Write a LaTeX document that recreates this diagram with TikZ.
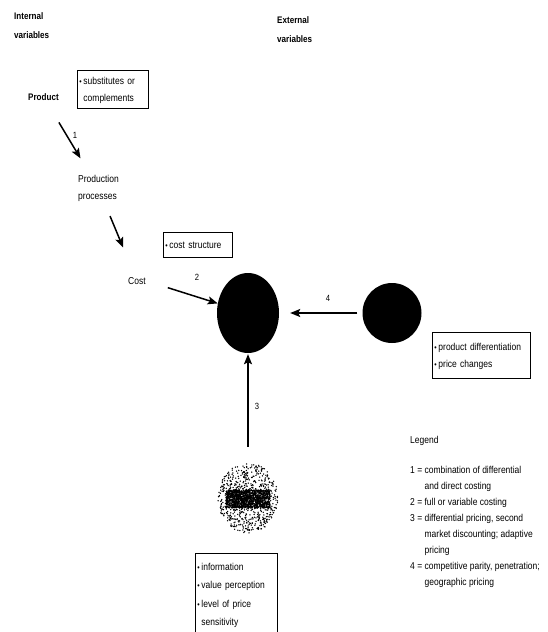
\documentclass[tikz,border=0pt]{standalone}
\usepackage{fontspec}
\setmainfont{Liberation Sans}[FakeStretch=0.85]
\usetikzlibrary{shapes.geometric,arrows.meta}
\begin{document}
\begin{tikzpicture}[x=1pt,y=-1pt,
  lbl/.style={font=\fontsize{10}{19}\selectfont, align=left, inner sep=0pt, anchor=north west},
  bx/.style={draw, line width=0.8pt, inner xsep=2pt, anchor=north west, align=left},
  arr/.style={-{Stealth[length=10pt,width=8pt,inset=2pt]}, line width=1.5pt},
  num/.style={font=\fontsize{9}{9}\selectfont, inner sep=0pt},
  blob/.style={ellipse, fill=black, inner sep=0pt}]
\useasboundingbox[fill=white] (0,0) rectangle (548,632);
\newcommand{\bul}{{\fontsize{8}{8}\selectfont\textbullet}}

% internal / external labels
\node[lbl, font=\bfseries\fontsize{9.5}{19}\selectfont] (int) at (14,12) {Internal\\variables};
\node[lbl, font=\bfseries\fontsize{9.5}{19}\selectfont] (ext) at (277,16) {External\\variables};

\node[lbl, font=\bfseries\fontsize{9.5}{17}\selectfont] (product) at (28,93) {Product};
\node[lbl, font=\fontsize{10}{17}\selectfont] (prod) at (78,175) {Production\\processes};
\node[lbl, font=\fontsize{10}{17}\selectfont] (cost) at (128,277) {Cost};

% boxes
\node[bx, inner ysep=2pt, text width=67pt, font=\fontsize{10}{17}\selectfont] (bsub) at (77,70)
  {\begin{tabular}{@{}l@{\,}l@{}}\bul & substitutes or\\ & complements\end{tabular}};
\node[bx, inner ysep=4pt, text width=65pt, font=\fontsize{10}{17}\selectfont] (bcost) at (163,232)
  {\begin{tabular}{@{}l@{\,}l@{}}\bul & cost structure\end{tabular}};
\node[bx, inner ysep=6pt, text width=94pt, font=\fontsize{10}{17}\selectfont] (bdiff) at (432,332)
  {\begin{tabular}{@{}l@{\,}l@{}}\bul & product differentiation\\ \bul & price changes\end{tabular}};
\node[bx, inner ysep=4pt, text width=78pt, font=\fontsize{10}{18.5}\selectfont] (binfo) at (195,553)
  {\begin{tabular}{@{}l@{\,}l@{}}\bul & information\\ \bul & value perception\\ \bul & level of price\\ & sensitivity\end{tabular}};

% blobs
\node[blob, minimum width=62pt, minimum height=80pt] (main) at (248,313) {};
\node[blob, minimum width=59pt, minimum height=60pt] (rc) at (392,313) {};
\node[ellipse, inner sep=0pt, minimum width=62pt, minimum height=72pt] (fz) at (248,498) {};

% fuzzy speckled blob
\pgfmathsetseed{7}
\foreach \i in {1,...,650}{
  \pgfmathsetmacro\ang{rnd*360}
  \pgfmathsetmacro\rr{sqrt(rnd)}
  \fill ({248+30*\rr*cos(\ang)},{498+35*\rr*sin(\ang)}) circle (0.75);
}
\foreach \i in {1,...,1100}{
  \pgfmathsetmacro\px{rnd*44}
  \pgfmathsetmacro\py{rnd*18}
  \fill ({226+\px},{490+\py}) circle (0.8);
}

% connectors
\draw[arr, shorten <=30pt, shorten >=35pt] (product.center) -- (prod.center);
\draw[arr, shorten <=30pt, shorten >=36pt] (prod.center) -- (cost.center);
\draw[arr, shorten <=23pt, shorten >=0pt] (cost.east) -- (main);
\draw[arr, shorten <=5pt, shorten >=11pt] (rc) -- (main);
\draw[arr, shorten <=15pt, shorten >=1pt] (fz) -- (main);

% numbers
\node[num] (n1) at (75,135) {1};
\node[num] (n2) at (197,277) {2};
\node[num] (n3) at (257,406) {3};
\node[num] (n4) at (328,298) {4};

% legend
\node[lbl, font=\fontsize{10}{16}\selectfont] (legend) at (410,432)
  {\begin{tabular}{@{}l@{ }l@{}}
   \multicolumn{2}{@{}l@{}}{Legend}\\[14pt]
   1 = & combination of differential\\
       & and direct costing\\
   2 = & full or variable costing\\
   3 = & differential pricing, second\\
       & market discounting; adaptive\\
       & pricing\\
   4 = & competitive parity, penetration;\\
       & geographic pricing
   \end{tabular}};
\end{tikzpicture}
\end{document}
